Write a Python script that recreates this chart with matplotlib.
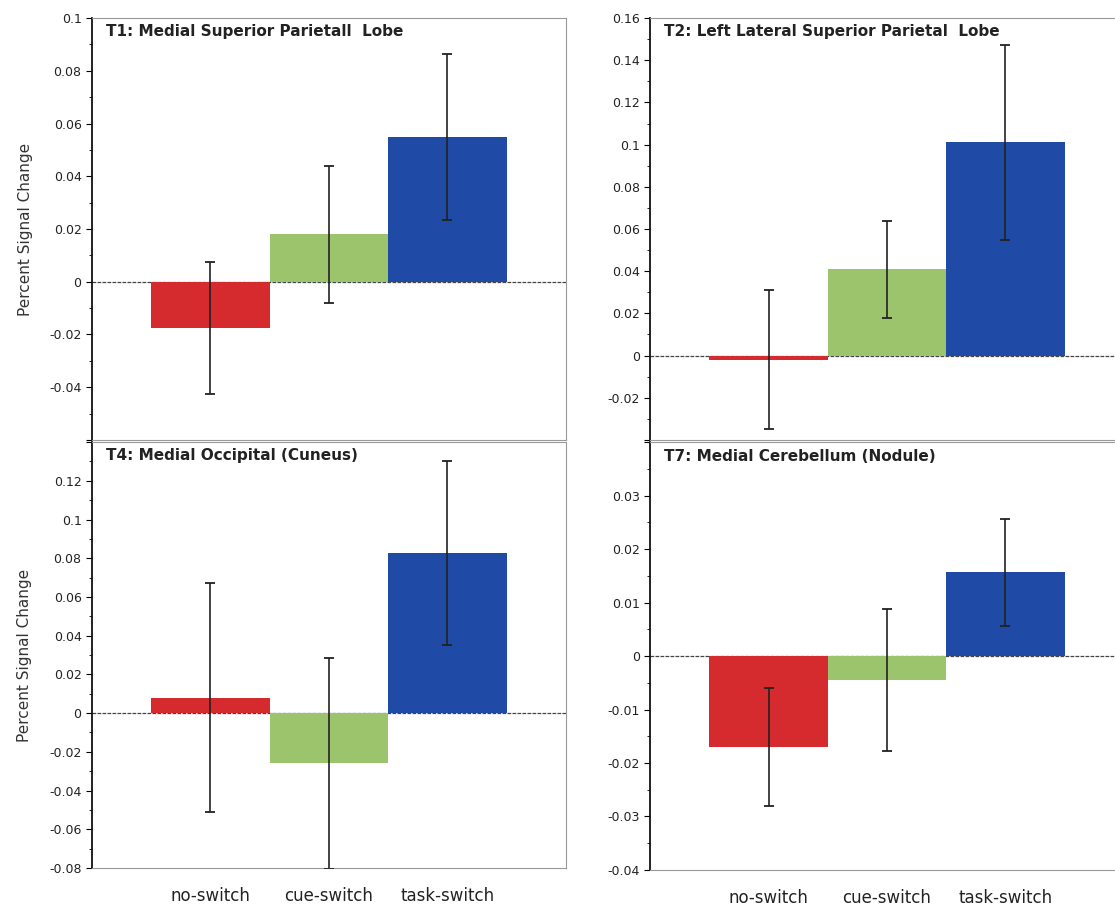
import numpy as np
import matplotlib
matplotlib.use('Agg')
import matplotlib.pyplot as plt
from matplotlib.ticker import MultipleLocator

conditions = ['no-switch', 'cue-switch', 'task-switch']
colors = ['#d52b2e', '#9cc46c', '#1f4aa6']

titles = ['T1: Medial Superior Parietall  Lobe',
          'T2: Left Lateral Superior Parietal  Lobe',
          'T4: Medial Occipital (Cuneus)',
          'T7: Medial Cerebellum (Nodule)']

t1_means = [-0.0175, 0.018, 0.055]
t1_errs = [0.025, 0.026, 0.0315]
t2_means = [-0.002, 0.041, 0.101]
t2_errs = [0.033, 0.023, 0.046]
t4_means = [0.008, -0.026, 0.0825]
t4_errs = [0.059, 0.0545, 0.0475]
t7_means = [-0.017, -0.0045, 0.0157]
t7_errs = [0.011, 0.0133, 0.010]

ylims = [(-0.06, 0.1), (-0.04, 0.16), (-0.08, 0.14), (-0.04, 0.04)]
steps = [0.02, 0.02, 0.02, 0.01]
# tick values that stay unlabelled (hidden by the panel next to it)
hidden = [-0.06, -0.04, 0.14, 0.04]

# left, bottom, width, height in figure fractions
boxes = [(0.0825, 0.5165, 0.425, 0.4637),
         (0.583, 0.5165, 0.425, 0.4637),
         (0.0825, 0.0462, 0.425, 0.468),
         (0.583, 0.044, 0.425, 0.470)]

means = [t1_means, t2_means, t4_means, t7_means]
errs = [t1_errs, t2_errs, t4_errs, t7_errs]

fig = plt.figure(figsize=(11.15, 9.1), dpi=100)
x = np.arange(1, 4)

for i in range(4):
    ax = fig.add_axes(boxes[i])
    ax.bar(x, means[i], width=1.0, color=colors, edgecolor='none', zorder=2)
    ax.errorbar(x, means[i], yerr=errs[i], fmt='none', ecolor='#222222',
                elinewidth=1.2, capsize=3.5, capthick=1.3, zorder=3)
    ax.axhline(0, color='#444444', lw=0.9, ls=(0, (3, 1)), zorder=1)
    ax.set_xlim(0, 4)
    ax.set_ylim(*ylims[i])

    lo, hi = ylims[i]
    ticks = np.round(np.arange(lo, hi + steps[i] / 2, steps[i]), 3)
    labels = ['' if abs(t - hidden[i]) < 1e-9 else f'{t:g}' for t in ticks]
    ax.set_yticks(ticks)
    ax.set_yticklabels(labels, fontsize=9, color='#222222')
    ax.yaxis.set_minor_locator(MultipleLocator(steps[i] / 2))
    ax.tick_params(axis='y', which='major', direction='out', length=4, width=0.8)
    ax.tick_params(axis='y', which='minor', direction='out', length=2, width=0.6)

    ax.spines['left'].set_color('#111111')
    ax.spines['left'].set_linewidth(1.3)
    for s in ['top', 'right', 'bottom']:
        ax.spines[s].set_color('#999999')
        ax.spines[s].set_linewidth(0.8)
        ax.spines[s].set_linestyle((0, (2, 1)))

    ax.text(0.03, 0.985, titles[i], transform=ax.transAxes, ha='left', va='top',
            fontsize=11, fontweight='bold', color='#222222')

    if i in (0, 2):
        ax.set_ylabel('Percent Signal Change', fontsize=11, color='#333333', labelpad=12)

    if i >= 2:
        ax.set_xticks(x)
        ax.set_xticklabels(conditions, fontsize=12, color='#222222')
        ax.tick_params(axis='x', length=0, pad=14)
    else:
        ax.set_xticks([])

fig.savefig('out.png', dpi=100)
